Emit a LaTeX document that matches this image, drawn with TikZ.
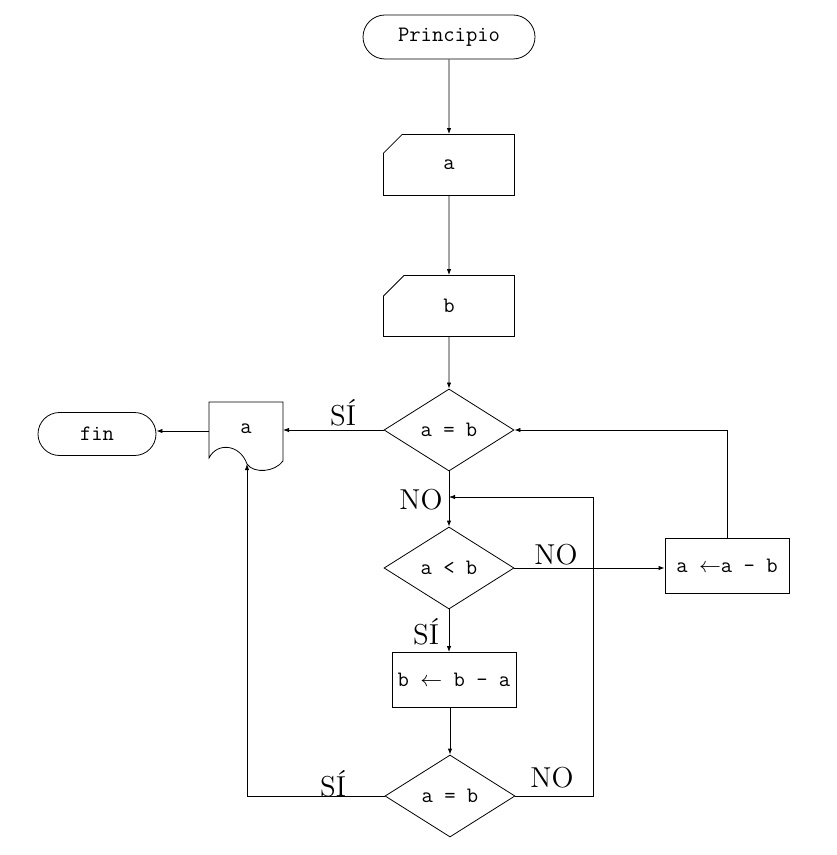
\documentclass[tikz,border=0pt]{standalone}
\usepackage{fontspec}
\usepackage{tikz}
\usetikzlibrary{positioning}
\usetikzlibrary{shapes.misc,shapes.geometric}
\usetikzlibrary{arrows.meta}

\begin{document}
\begin{tikzpicture}[x=0.5pt,y=-0.5pt]
% Style definitions
\tikzset{
    block/.style={draw, font=\fontsize{11}{13}\selectfont\ttfamily, inner sep=2pt},
    terminal/.style={block, rounded rectangle, minimum width=90pt, minimum height=22pt},
    reading/.style={block, chamfered rectangle, chamfered rectangle corners=north west,
                    chamfered rectangle xsep=10pt, chamfered rectangle ysep=9pt,
                    minimum width=65.5pt, minimum height=30.5pt},
    decision/.style={block, diamond, inner sep=0pt, minimum width=65pt, minimum height=41pt},
    process/.style={block, minimum width=62pt, minimum height=27.5pt},
    answer/.style={font=\Large},
    flow/.style={-{Latex[length=3pt,width=2.2pt]}}
}
\useasboundingbox (0,0) rectangle (836,855);

% Main column
\node[terminal] (start) at (449,37) {Principio};
\node[reading] (ina) at (449,165) {a};
\node[reading] (inb) at (449,306) {b};
\node[decision] (dec1) at (449,430) {a = b};
\node[decision] (dec2) at (449,568) {a < b};
\node[process] (updb) at (454,680) {b $\leftarrow$ b - a};
\node[decision] (dec3) at (450,796) {a = b};
\node[process] (upda) at (727,566) {a $\leftarrow$a - b};

% Output document and end
\node[font=\fontsize{11}{13}\selectfont\ttfamily, minimum width=37pt, minimum height=29pt] (out) at (246,429) {a};
\draw (209,402) -- (283,402) -- (283,461)
      .. controls (275,472) and (254,474) .. (247,464)
      .. controls (240,444) and (217,442) .. (209,458) -- cycle;
\coordinate (outin) at (247,464);
\node[terminal, minimum width=63pt, minimum height=21.5pt] (fin) at (97,434) {fin};

% Joints of the loops
\coordinate (join) at (449,497);
\coordinate (loop) at (593,497);

% Connecting arrows
\draw[flow] (start) -- (ina);
\draw[flow] (ina) -- (inb);
\draw[flow] (inb) -- (dec1);
\draw[flow] (dec1.west) -- (dec1.west -| 283,0);
\draw[flow] (209,431) -- (209,431 -| fin.east);
\draw[flow] (dec1) -- (dec2);
\draw[flow] (dec2.east) -- (dec2.east -| upda.west);
\draw[flow] (upda.north) |- (dec1.east);
\draw[flow] (dec2.south) -- (dec2.south |- updb.north);
\draw[flow] (updb.south -| dec3.north) -- (dec3.north);
\draw[flow] (dec3.east) -| (loop) -- (join);
\draw[flow] (dec3.west) -| (outin);

% Answers
\node[answer] (si1) at (343,413) {SÍ};
\node[answer] (no1) at (421,500) {NO};
\node[answer] (no2) at (556,555) {NO};
\node[answer] (si2) at (426,632) {SÍ};
\node[answer] (no3) at (552,778) {NO};
\node[answer] (si3) at (333,784) {SÍ};

\end{tikzpicture}
\end{document}
